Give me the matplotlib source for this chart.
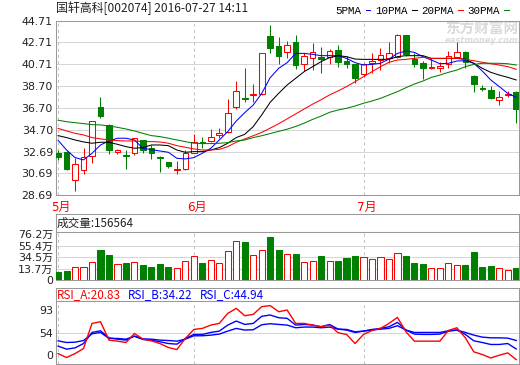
import numpy as np
import matplotlib
matplotlib.use("Agg")
import matplotlib.pyplot as plt
from matplotlib.transforms import ScaledTranslation

W, H = 520, 365

## ---- values (55 trading days, 2016-05 .. 2016-07-27) ----
opens = [32.60, 32.69, 30.06, 30.98, 32.26, 36.79, 35.14, 32.69, 32.39, 32.54,
         33.73, 33.06, 32.20, 31.74, 31.04, 31.13, 32.60, 33.55, 33.64, 34.19,
         34.46, 36.76, 37.62, 37.86, 37.95, 43.27, 42.36, 41.80, 42.72, 40.70,
         41.25, 41.41, 41.41, 42.02, 41.01, 40.70, 39.79, 40.80, 41.13, 41.32,
         41.41, 43.39, 41.16, 40.80, 40.34, 40.34, 40.71, 41.38, 41.87, 39.66,
         38.56, 38.35, 37.41, 37.93, 38.14]
highs = [32.84, 32.72, 32.14, 33.00, 35.50, 37.71, 35.20, 32.90, 32.84, 33.98,
         33.76, 33.30, 32.26, 31.74, 31.84, 32.87, 34.31, 34.01, 34.77, 34.83,
         37.52, 39.17, 40.34, 38.90, 41.71, 44.31, 43.21, 42.84, 43.39, 41.74,
         42.66, 42.29, 42.08, 42.48, 41.50, 40.76, 40.86, 41.71, 42.23, 42.78,
         43.49, 43.39, 41.77, 41.01, 41.26, 40.95, 41.93, 42.73, 41.90, 39.70,
         38.81, 38.75, 38.26, 38.26, 38.26]
lows = [31.93, 31.01, 29.11, 30.67, 31.68, 35.81, 32.45, 32.51, 31.07, 32.39,
        32.54, 32.02, 30.86, 31.22, 30.61, 31.04, 32.54, 33.06, 33.58, 33.92,
        34.40, 36.61, 37.22, 37.22, 37.89, 41.77, 40.76, 41.25, 40.28, 40.09,
        40.18, 39.88, 40.70, 40.49, 40.34, 38.96, 39.57, 39.88, 40.18, 40.86,
        41.25, 41.50, 40.49, 39.36, 40.28, 40.03, 40.40, 41.26, 40.40, 38.20,
        38.26, 37.55, 36.98, 37.71, 35.33]
closes = [32.23, 31.10, 31.53, 32.17, 35.50, 35.99, 32.87, 32.87, 32.33, 33.92,
          32.81, 32.54, 32.14, 31.41, 31.10, 32.60, 33.58, 33.49, 34.01, 34.40,
          36.24, 38.23, 37.49, 37.95, 41.71, 42.17, 41.50, 42.45, 40.67, 41.50,
          41.80, 41.16, 41.93, 40.89, 40.76, 39.48, 40.70, 41.01, 41.53, 41.71,
          43.39, 41.62, 40.76, 40.40, 40.49, 40.58, 41.50, 41.81, 40.89, 38.87,
          38.44, 37.59, 37.74, 37.96, 36.61]

ma5 = [33.73, 32.84, 32.14, 31.93, 32.54, 33.30, 33.67, 33.92, 33.92, 33.76,
       33.00, 32.87, 32.75, 32.63, 32.08, 32.02, 32.14, 32.54, 33.00, 33.76,
       34.53, 35.50, 36.27, 36.97, 38.04, 39.48, 40.34, 40.86, 41.71, 41.71,
       41.62, 41.50, 41.50, 41.50, 41.25, 40.86, 40.64, 40.70, 40.80, 41.19,
       41.71, 41.93, 41.80, 41.41, 41.10, 40.76, 40.80, 41.01, 41.04, 40.80,
       40.09, 39.27, 38.66, 38.04, 37.68]
ma10 = [34.16, 33.98, 33.76, 33.58, 33.46, 33.55, 33.55, 33.36, 33.15, 33.00,
        33.06, 33.30, 33.30, 33.24, 32.84, 32.63, 32.69, 32.69, 32.84, 33.06,
        33.46, 33.98, 34.28, 34.99, 36.06, 37.22, 38.04, 38.81, 39.42, 40.03,
        40.49, 40.95, 41.32, 41.50, 41.41, 41.19, 41.16, 41.16, 41.16, 41.16,
        41.41, 41.50, 41.50, 41.50, 41.25, 41.25, 41.25, 41.25, 41.19, 40.80,
        40.34, 39.97, 39.72, 39.51, 39.27]
ma20 = [34.83, 34.59, 34.37, 34.22, 33.98, 33.86, 33.76, 33.70, 33.67, 33.67,
        33.61, 33.61, 33.58, 33.46, 33.24, 33.09, 32.94, 32.84, 32.84, 32.90,
        33.15, 33.55, 33.85, 34.15, 34.45, 34.85, 35.25, 35.70, 36.15, 36.60,
        37.05, 37.45, 37.90, 38.26, 38.66, 39.11, 39.57, 40.03, 40.49, 40.89,
        41.10, 41.16, 41.25, 41.35, 41.25, 41.25, 41.25, 41.25, 41.16, 41.04,
        40.89, 40.76, 40.64, 40.49, 40.25]
ma30 = [35.57, 35.44, 35.35, 35.26, 35.17, 35.14, 35.05, 34.92, 34.77, 34.59,
        34.37, 34.16, 34.07, 33.92, 33.76, 33.61, 33.46, 33.43, 33.43, 33.46,
        33.52, 33.67, 33.76, 33.98, 34.15, 34.35, 34.55, 34.75, 35.00, 35.30,
        35.65, 35.95, 36.30, 36.51, 36.67, 36.88, 37.13, 37.34, 37.58, 37.89,
        38.20, 38.56, 38.90, 39.17, 39.51, 39.72, 39.97, 40.18, 40.49, 40.70,
        40.80, 40.80, 40.80, 40.76, 40.64]

## volume in 万 (10k shares)
volume = [7.7, 9.5, 16.1, 16.1, 25.2, 47.5, 38.4, 21.5, 23.3, 25.2,
          20.3, 16.7, 21.5, 16.7, 14.3, 27.0, 36.0, 23.3, 28.8, 23.3,
          45.1, 63.1, 61.3, 37.8, 47.5, 71.0, 47.5, 39.6, 39.6, 25.2,
          27.6, 36.6, 27.6, 27.6, 33.0, 36.6, 34.2, 31.2, 34.2, 31.2,
          41.4, 36.6, 24.0, 22.1, 14.3, 14.3, 23.3, 19.7, 19.7, 43.8,
          16.7, 18.5, 14.9, 11.3, 15.66]

rsi_a = [28.4, 23.4, 28.4, 34.8, 66.5, 68.6, 45.4, 44.1, 42.4, 53.8,
         46.6, 44.5, 41.1, 36.1, 33.5, 47.5, 58.9, 60.2, 64.4, 66.5,
         79.2, 85.5, 76.2, 77.9, 87.7, 89.0, 81.3, 83.4, 66.5, 66.5,
         64.4, 62.3, 64.4, 54.7, 52.6, 41.1, 52.6, 57.6, 60.2, 66.5,
         74.1, 55.9, 44.1, 44.1, 44.1, 44.1, 57.6, 61.0, 48.3, 30.6,
         27.2, 22.9, 26.3, 29.3, 20.83]
rsi_b = [37.8, 34.0, 35.6, 41.1, 55.1, 57.2, 48.3, 46.6, 45.4, 50.4,
         46.2, 45.4, 43.3, 41.1, 40.3, 47.5, 52.6, 52.6, 55.1, 56.8,
         64.4, 69.5, 65.2, 66.5, 75.5, 77.1, 73.7, 72.9, 64.4, 65.2,
         64.4, 62.3, 65.2, 59.3, 58.1, 55.1, 56.8, 58.9, 60.2, 62.3,
         67.8, 58.1, 53.0, 52.6, 52.6, 53.0, 56.8, 58.1, 52.6, 44.5,
         42.4, 39.9, 39.9, 41.1, 34.22]
rsi_c = [44.5, 42.4, 42.8, 44.9, 53.4, 55.1, 47.5, 47.5, 46.6, 50.4,
         47.0, 46.6, 45.4, 44.9, 44.1, 46.6, 50.9, 50.9, 51.7, 53.0,
         56.8, 60.2, 58.1, 58.5, 64.8, 66.1, 65.2, 64.4, 61.0, 61.9,
         61.9, 61.0, 61.9, 59.3, 58.9, 55.9, 56.8, 58.1, 59.3, 60.2,
         63.6, 58.1, 55.1, 55.1, 55.1, 55.1, 57.2, 58.1, 55.1, 51.7,
         49.2, 48.3, 48.3, 47.9, 44.94]

month_pos = [0, 16, 36]
month_labels = ["5月", "6月", "7月"]
price_ticks = [28.69, 30.69, 32.69, 34.70, 36.70, 38.70, 40.71, 42.71, 44.71]
vol_ticks = [-7.1, 13.7, 34.5, 55.4, 76.2]
vol_labels = ["0", "13.7万", "34.5万", "55.4万", "76.2万"]
rsi_ticks = [26.3, 54, 83.4]
rsi_labels = ["0", "54", "93"]

## ---- style ----
plt.rcParams["font.family"] = ["DejaVu Sans", "Noto Sans CJK SC"]
RED = "#ff0000"
GREEN = "#008000"
BLUE = "#0000ff"
FRAME = "#999999"
GRID = "#d6d6d6"
LW = 0.75

def box(x0, y0, x1, y1):
    ## pixel box -> figure fraction
    return [x0 / W, 1 - y1 / H, (x1 - x0) / W, (y1 - y0) / H]

def frame(ax):
    for s in ax.spines.values():
        s.set_color(FRAME)
        s.set_linewidth(LW)
    ax.tick_params(length=0, labelsize=7.9, labelcolor="#222222", pad=2)

fig = plt.figure(figsize=(W / 100, H / 100), dpi=100)
L, R = 55.7, 519.3
ax = fig.add_axes(box(L, 20.7, R, 195.2))
ax_vh = fig.add_axes(box(L, 213.5, R, 231.7))
ax_v = fig.add_axes(box(L, 231.7, R, 280.3))
ax_rh = fig.add_axes(box(L, 287.7, R, 301.0))
ax_r = fig.add_axes(box(L, 301.0, R, 364.3))

x = np.arange(len(closes))
o = np.array(opens); c = np.array(closes)
up = c >= o
cols = np.where(up, RED, GREEN)
faces = np.where(up, "white", GREEN)
xlim = (-0.28, 54.36)

## ---- price panel ----
for a in (ax, ax_v, ax_r):
    for m in month_pos:
        a.axvline(m, color="#c4c4c4", lw=LW, ls=(0, (3, 3)), zorder=1)
for t in price_ticks:
    ax.axhline(t, color=GRID, lw=LW, zorder=0.8)

ax.vlines(x, lows, highs, colors=cols, lw=LW, zorder=3)
ax.bar(x, np.maximum(np.abs(c - o), 0.03), bottom=np.minimum(o, c), width=0.66,
       color=faces, edgecolor=cols, linewidth=LW, zorder=4)
l5, = ax.plot(x, ma5, color=BLUE, lw=LW, zorder=5)
l10, = ax.plot(x, ma10, color="black", lw=LW, zorder=5)
l20, = ax.plot(x, ma20, color=RED, lw=LW, zorder=5)
l30, = ax.plot(x, ma30, color=GREEN, lw=LW, zorder=5)

ax.set_xlim(xlim)
ax.set_ylim(28.69, 44.71)
ax.set_yticks(price_ticks)
ax.set_yticklabels(["%.2f" % t for t in price_ticks])
ax.set_xticks(month_pos)
ax.set_xticklabels(month_labels, color=RED, fontsize=8.6)
frame(ax)
ax.tick_params(axis="x", pad=4, labelcolor=RED, labelsize=8.6)
shift = ScaledTranslation(3 / 100, 0, fig.dpi_scale_trans)
for lab in ax.get_xticklabels():
    lab.set_transform(lab.get_transform() + shift)

## watermark
ax.text(0.918, 0.952, "东方财富网", transform=ax.transAxes, ha="center", va="center",
        fontsize=10.5, fontweight="bold", color="#dadada", family="Noto Sans CJK SC", zorder=0.5)
ax.text(0.918, 0.889, "eastmoney.com", transform=ax.transAxes, ha="center", va="center",
        fontsize=6.0, fontweight="bold", style="italic", color="#dcdcdc", zorder=0.5)

## title and legend
fig.text(56 / W, 1 - 8.3 / H, "国轩高科[002074] 2016-07-27 14:11", ha="left", va="center",
         fontsize=8.6, family="Noto Sans CJK SC", color="#222222")
fig.legend([l5, l10, l20, l30], ["5PMA", "10PMA", "20PMA", "30PMA"], loc="center right",
           bbox_to_anchor=(514 / W, 1 - 10.5 / H), ncol=4, frameon=False, markerfirst=False,
           handlelength=0.45, handletextpad=0.35, columnspacing=0.45, borderpad=0,
           prop={"family": "Liberation Mono", "size": 7.8})

## ---- volume panel ----
vmin = vol_ticks[0]
v = np.array(volume)
for t in vol_ticks[1:4]:
    ax_v.axhline(t, color=GRID, lw=LW, zorder=0.8)
ax_v.bar(x, v - vmin, bottom=vmin, width=0.72, color=faces, edgecolor=cols,
         linewidth=LW, zorder=3)
ax_v.set_xlim(xlim)
ax_v.set_ylim(vmin, 80.5)
ax_v.set_yticks(vol_ticks)
ax_v.set_yticklabels(vol_labels)
ax_v.set_xticks([])
frame(ax_v)

ax_vh.set_xticks([]); ax_vh.set_yticks([])
frame(ax_vh)
ax_vh.text(0.003, 0.45, "成交量:156564", transform=ax_vh.transAxes, ha="left", va="center",
           fontsize=8.4, family="Noto Sans CJK SC", color="#222222")

## ---- RSI panel ----
ax_r.axhline(54, color=GRID, lw=LW, zorder=0.8)
ax_r.plot(x, rsi_a, color=RED, lw=1.0, zorder=4)
ax_r.plot(x, rsi_b, color=BLUE, lw=1.0, zorder=3)
ax_r.plot(x, rsi_c, color=BLUE, lw=1.0, zorder=3)
ax_r.set_xlim(xlim)
ax_r.set_ylim(14.87, 94.81)
ax_r.set_yticks(rsi_ticks)
ax_r.set_yticklabels(rsi_labels)
ax_r.set_xticks([])
frame(ax_r)

ax_rh.set_xticks([]); ax_rh.set_yticks([])
frame(ax_rh)
for xp, txt, col in [(57, "RSI_A:20.83", RED), (128, "RSI_B:34.22", BLUE), (200, "RSI_C:44.94", BLUE)]:
    ax_rh.text((xp - L) / (R - L), 0.45, txt, transform=ax_rh.transAxes, ha="left", va="center",
               fontsize=8.4, family="Noto Sans CJK SC", color=col)

fig.savefig("out.png", dpi=100)
